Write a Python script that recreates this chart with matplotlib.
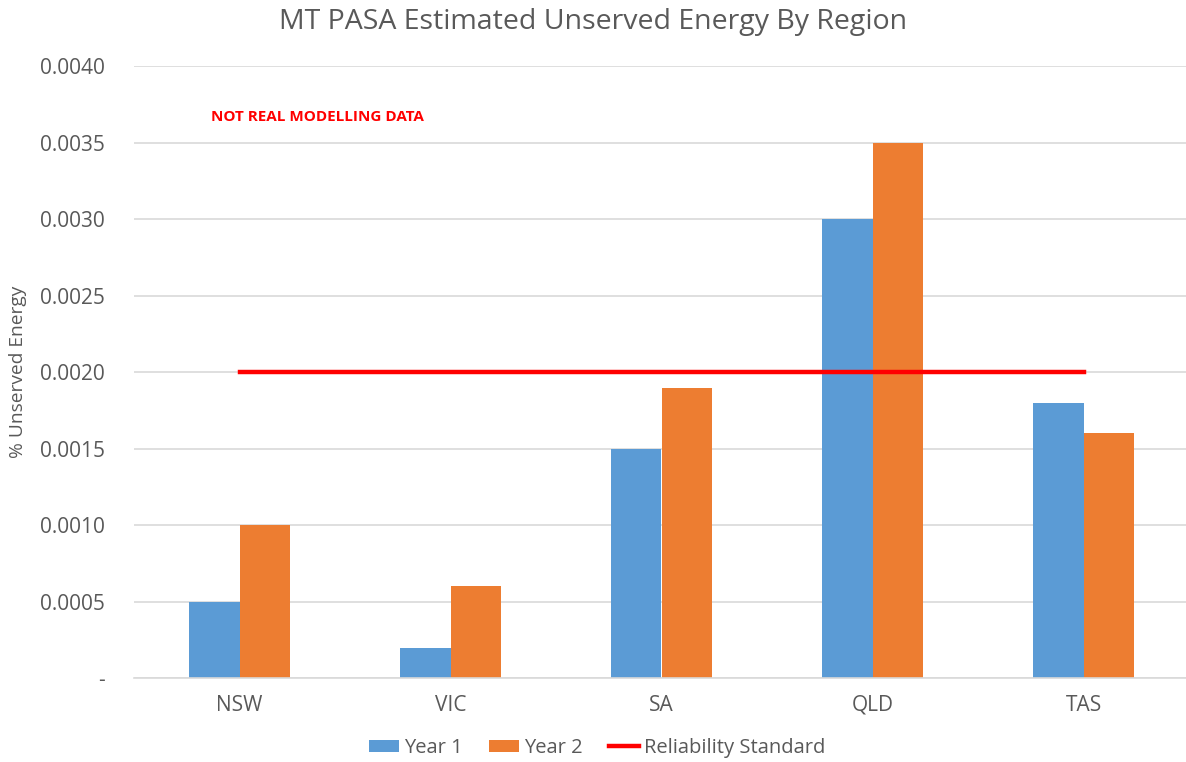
import numpy as np
import matplotlib
matplotlib.use("Agg")
import matplotlib.pyplot as plt
from matplotlib.ticker import FuncFormatter

regions = ["NSW", "VIC", "SA", "QLD", "TAS"]
year1 = [0.0005, 0.0002, 0.0015, 0.0030, 0.0018]
year2 = [0.0010, 0.0006, 0.0019, 0.0035, 0.0016]
reliability = [0.002, 0.002, 0.002, 0.002, 0.002]
yticks = [0, 0.0005, 0.001, 0.0015, 0.002, 0.0025, 0.003, 0.0035, 0.004]

plt.rcParams['font.family'] = ['Open Sans', 'DejaVu Sans']
gray = "#595959"

fig = plt.figure(figsize=(11.86, 7.62), dpi=100)
ax = fig.add_axes([134 / 1186, 0.110, 1055 / 1186, 0.803])

x = np.arange(len(regions))
w = 0.24
b1 = ax.bar(x - w / 2, year1, w, color="#5B9BD5", label="Year 1", zorder=2)
b2 = ax.bar(x + w / 2, year2, w, color="#ED7D31", label="Year 2", zorder=2)
ln, = ax.plot(x, reliability, color="#FF0000", linewidth=3.2, label="Reliability Standard", zorder=3)

ax.set_xlim(-0.5, len(regions) - 0.5)
ax.set_ylim(0, 0.004)
ax.set_yticks(yticks)
ax.yaxis.set_major_formatter(FuncFormatter(lambda v, p: "-" if v == 0 else f"{v:.4f}"))
ax.set_xticks(x)
ax.set_xticklabels(regions)
ax.grid(axis="y", color="#d9d9d9", linewidth=1.2, zorder=0)
ax.set_axisbelow(True)
for s in ["top", "right", "left"]:
    ax.spines[s].set_visible(False)
ax.spines["bottom"].set_color("#d9d9d9")
ax.spines["bottom"].set_linewidth(1.2)
ax.tick_params(axis="both", length=0, colors=gray, labelsize=15)
ax.tick_params(axis="y", pad=21)
ax.tick_params(axis="x", pad=12)

ax.set_ylabel("% Unserved Energy", color=gray, fontsize=13.8, labelpad=9)
fig.suptitle("MT PASA Estimated Unserved Energy By Region", color=gray, fontsize=20.5, y=0.99)

ax.text(-0.135, 0.00367, "NOT REAL MODELLING DATA", color="#FF0000", fontsize=11,
        fontweight="bold", va="center")

fig.legend(handles=[b1, b2, ln], loc="center", ncol=3, frameon=False, fontsize=14.5,
           labelcolor=gray, bbox_to_anchor=(597 / 1186, 14 / 762), handlelength=1.5,
           handleheight=0.6, handletextpad=0.25, columnspacing=1.3)

fig.savefig("out.png", dpi=100)
